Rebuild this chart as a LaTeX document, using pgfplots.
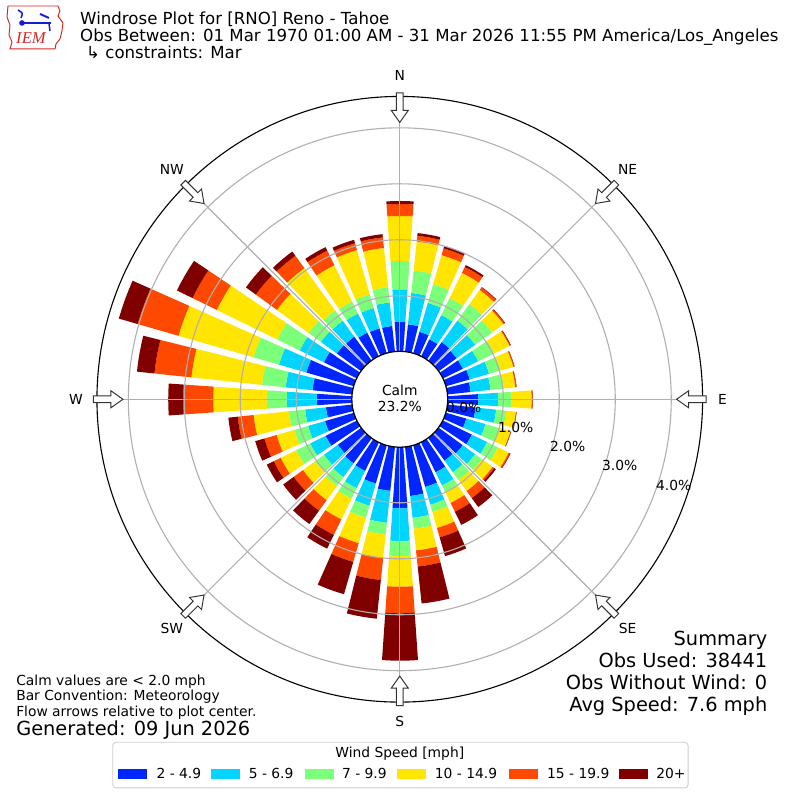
\documentclass[border=0pt]{standalone}
\usepackage{pgfplots}
\pgfplotsset{compat=1.18}
\usepackage{pgfplotstable}
\usepackage{fontspec}
\setmainfont{DejaVu Sans}
\newfontfamily\logofont{Liberation Serif}

\definecolor{c1}{RGB}{0,38,255}
\definecolor{c2}{RGB}{0,212,255}
\definecolor{c3}{RGB}{124,255,121}
\definecolor{c4}{RGB}{255,229,0}
\definecolor{c5}{RGB}{255,72,0}
\definecolor{c6}{RGB}{128,0,0}
\definecolor{gridgray}{RGB}{176,176,176}
\definecolor{logored}{RGB}{210,40,40}
\definecolor{logoblue}{RGB}{20,30,210}

% percent of observations per direction and speed bin
\pgfplotstableread{
dir b1 b2 b3 b4 b5 b6
0 0.539 0.579 0.505 0.804 0.214 0.054
10 0.500 0.563 0.405 0.518 0.104 0.048
20 0.407 0.538 0.348 0.539 0.127 0.045
30 0.346 0.482 0.339 0.500 0.118 0.036
40 0.418 0.475 0.364 0.313 0.054 0.009
50 0.400 0.411 0.375 0.250 0.027 0.009
60 0.400 0.304 0.321 0.304 0.018 0.009
70 0.446 0.359 0.216 0.236 0.018 0.005
80 0.418 0.357 0.241 0.205 0.018 0.005
90 0.548 0.357 0.239 0.357 0.018 0.005
100 0.507 0.370 0.179 0.175 0.009 0.005
110 0.382 0.357 0.250 0.214 0.009 0.005
120 0.579 0.304 0.214 0.214 0.027 0.009
130 0.536 0.275 0.148 0.236 0.036 0.036
140 0.502 0.255 0.170 0.245 0.157 0.196
150 0.596 0.264 0.134 0.213 0.175 0.259
160 0.775 0.330 0.134 0.298 0.175 0.348
170 0.882 0.393 0.196 0.389 0.289 0.664
180 1.093 0.584 0.268 0.548 0.475 0.846
190 0.791 0.573 0.213 0.421 0.393 0.696
200 0.711 0.413 0.221 0.475 0.348 0.600
210 0.570 0.343 0.207 0.413 0.309 0.273
220 0.561 0.304 0.196 0.313 0.232 0.295
230 0.525 0.304 0.196 0.268 0.205 0.232
240 0.629 0.307 0.277 0.309 0.138 0.138
250 0.543 0.316 0.255 0.329 0.227 0.171
260 0.479 0.375 0.291 0.634 0.284 0.170
270 0.638 0.536 0.357 0.954 0.536 0.268
280 0.721 0.482 0.423 1.270 0.664 0.314
290 0.891 0.507 0.475 1.393 0.759 0.350
300 0.663 0.480 0.446 1.204 0.482 0.309
310 0.548 0.350 0.271 0.700 0.466 0.218
320 0.538 0.350 0.232 0.932 0.273 0.093
330 0.480 0.379 0.239 0.721 0.289 0.070
340 0.471 0.379 0.254 0.823 0.127 0.063
350 0.470 0.423 0.273 0.705 0.189 0.059
}\windtable

% geometry: centre (400,400.5) in axis units (1 unit = 0.01in), 0% at r=47.6, 56 units per 1%
\newcommand\wrAddPt[2]{%
  \pgfmathsetmacro\wrX{400+#1*sin(#2)}%
  \pgfmathsetmacro\wrY{400.5+#1*cos(#2)}%
  \xdef\wrPts{\wrPts(\wrX,\wrY) }%
}
\newcommand\wrSeg[2]{%
  \pgfplotstablegetelem{#1}{b#2}\of\windtable
  \pgfmathsetmacro\wrOut{\wrIn+56*\pgfplotsretval}%
  \gdef\wrPts{}%
  \wrAddPt{\wrOut}{\wrDir-3.95}\wrAddPt{\wrOut}{\wrDir-2}\wrAddPt{\wrOut}{\wrDir}%
  \wrAddPt{\wrOut}{\wrDir+2}\wrAddPt{\wrOut}{\wrDir+3.95}%
  \wrAddPt{\wrIn}{\wrDir+3.95}\wrAddPt{\wrIn}{\wrDir+2}\wrAddPt{\wrIn}{\wrDir}%
  \wrAddPt{\wrIn}{\wrDir-2}\wrAddPt{\wrIn}{\wrDir-3.95}%
  \edef\wrCmd{\noexpand\addplot[fill=c#2,draw=none,forget plot] coordinates {\wrPts} -- cycle;}%
  \wrCmd
  \global\let\wrIn\wrOut
}
\newcommand\wrDirBars[1]{%
  \pgfplotstablegetelem{#1}{dir}\of\windtable
  \xdef\wrDir{\pgfplotsretval}%
  \gdef\wrIn{47.6}%
  \wrSeg{#1}{1}\wrSeg{#1}{2}\wrSeg{#1}{3}\wrSeg{#1}{4}\wrSeg{#1}{5}\wrSeg{#1}{6}%
}

\begin{document}
\begin{tikzpicture}
\useasboundingbox (0,0) rectangle (8in,8in);
\begin{axis}[
  at={(0,0)}, anchor=south west,
  scale only axis, width=8in, height=8in,
  xmin=0, xmax=800, ymin=0, ymax=800,
  hide axis, clip=false,
]
\wrDirBars{0}\wrDirBars{1}\wrDirBars{2}\wrDirBars{3}\wrDirBars{4}\wrDirBars{5}
\wrDirBars{6}\wrDirBars{7}\wrDirBars{8}\wrDirBars{9}\wrDirBars{10}\wrDirBars{11}
\wrDirBars{12}\wrDirBars{13}\wrDirBars{14}\wrDirBars{15}\wrDirBars{16}\wrDirBars{17}
\wrDirBars{18}\wrDirBars{19}\wrDirBars{20}\wrDirBars{21}\wrDirBars{22}\wrDirBars{23}
\wrDirBars{24}\wrDirBars{25}\wrDirBars{26}\wrDirBars{27}\wrDirBars{28}\wrDirBars{29}
\wrDirBars{30}\wrDirBars{31}\wrDirBars{32}\wrDirBars{33}\wrDirBars{34}\wrDirBars{35}
\end{axis}

\begin{scope}[yshift=8in, x=0.01in, y=-0.01in, every node/.style={inner sep=0pt}]
  % grid
  \foreach \r in {103.6,159.6,215.6,271.6}
    \draw[gridgray, line width=0.8pt] (400,399.5) circle[radius=\r];
  \foreach \a in {0,45,...,315}
    \draw[gridgray, line width=0.8pt] (400,399.5) -- ++({303*sin(\a)},{-303*cos(\a)});
  \draw[black, line width=0.8pt] (400,399.5) circle[radius=303];
  \draw[black, fill=white, line width=0.9pt] (400,399.5) circle[radius=48];
  \node at (400,391) {Calm};
  \node at (400,407) {23.2\%};
  % direction arrows
  \foreach \a in {0,45,...,315}
    \draw[fill=white, draw=black!80, line width=0.7pt]
      ({400+277*sin(\a)},{399.5-277*cos(\a)})
      -- ({400+289*sin(\a)+8.5*cos(\a)},{399.5-289*cos(\a)+8.5*sin(\a)})
      -- ({400+289*sin(\a)+3.3*cos(\a)},{399.5-289*cos(\a)+3.3*sin(\a)})
      -- ({400+306.5*sin(\a)+3.3*cos(\a)},{399.5-306.5*cos(\a)+3.3*sin(\a)})
      -- ({400+306.5*sin(\a)-3.3*cos(\a)},{399.5-306.5*cos(\a)-3.3*sin(\a)})
      -- ({400+289*sin(\a)-3.3*cos(\a)},{399.5-289*cos(\a)-3.3*sin(\a)})
      -- ({400+289*sin(\a)-8.5*cos(\a)},{399.5-289*cos(\a)-8.5*sin(\a)})
      -- cycle;
  % direction labels
  \node at (400,76) {N};
  \node at (628,170) {NE};
  \node at (723,399.5) {E};
  \node at (628,629) {SE};
  \node at (400,722) {S};
  \node at (172,629) {SW};
  \node at (76,399.5) {W};
  \node at (172,170) {NW};
  % radial labels
  \node at (464,408) {0.0\%};
  \node at (516,428) {1.0\%};
  \node at (568,447) {2.0\%};
  \node at (620,466) {3.0\%};
  \node at (674,486) {4.0\%};
  % title
  \node[anchor=base west, font=\fontsize{12}{14}\selectfont] at (80,25) {Windrose Plot for [RNO] Reno - Tahoe};
  \node[anchor=base west, font=\fontsize{12}{14}\selectfont] at (80,42) {Obs Between: 01 Mar 1970 01:00 AM - 31 Mar 2026 11:55 PM America/Los\_Angeles};
  \node[anchor=base west, font=\fontsize{12}{14}\selectfont] at (86,59) {↳ constraints: Mar};
  % logo
  \draw[logored, line width=0.7pt] (8,6) -- (58,6) -- (60,11) -- (58,16) -- (63,23) -- (62,31) -- (60,39) -- (56,44) -- (55,49) -- (10,49) -- (12,42) -- (9,35) -- (10,25) -- (7,17) -- cycle;
  \node[logored, font=\logofont\itshape\fontsize{12}{12}\selectfont] at (31,38) {IEM};
  \draw[logoblue, line width=1.6pt] (21,23) -- (51,23);
  \fill[logoblue] (22,23) circle[radius=2.8];
  \draw[logoblue, line width=1.1pt] (18,10) .. controls (23,13) .. (21,18);
  \draw[logoblue, line width=1.4pt] (40,14) -- (49,18);
  \draw[logoblue, line width=1.1pt] (49,23) -- (50,31);
  % bottom left notes
  \node[anchor=base west] at (16,685.5) {Calm values are < 2.0 mph};
  \node[anchor=base west] at (16,701) {Bar Convention: Meteorology};
  \node[anchor=base west] at (16,716.5) {Flow arrows relative to plot center.};
  \node[anchor=base west, font=\fontsize{14}{16}\selectfont] at (16,736) {Generated: 09 Jun 2026};
  % summary
  \node[anchor=base east, font=\fontsize{14}{16}\selectfont] at (768,646) {Summary};
  \node[anchor=base east, font=\fontsize{14}{16}\selectfont] at (768,668) {Obs Used: 38441};
  \node[anchor=base east, font=\fontsize{14}{16}\selectfont] at (768,690) {Obs Without Wind: 0};
  \node[anchor=base east, font=\fontsize{14}{16}\selectfont] at (768,712) {Avg Speed: 7.6 mph};
  % legend
  \draw[draw=black!20, fill=white, rounded corners=2.5pt, line width=0.6pt] (112.8,742.7) rectangle (688.5,788.3);
  \node[anchor=base] at (400,757.5) {Wind Speed [mph]};
  \fill[c1] (118,769.5) rectangle ++(29,9.5);
  \fill[c2] (211.3,769.5) rectangle ++(29,9.5);
  \fill[c3] (305,769.5) rectangle ++(29,9.5);
  \fill[c4] (397.4,769.5) rectangle ++(29,9.5);
  \fill[c5] (509.2,769.5) rectangle ++(29,9.5);
  \fill[c6] (619.5,769.5) rectangle ++(29,9.5);
  \node[anchor=base west] at (156.4,779) {2 - 4.9};
  \node[anchor=base west] at (248.7,779) {5 - 6.9};
  \node[anchor=base west] at (342,779) {7 - 9.9};
  \node[anchor=base west] at (434.9,779) {10 - 14.9};
  \node[anchor=base west] at (547.2,779) {15 - 19.9};
  \node[anchor=base west] at (656.4,779) {20+};
\end{scope}
\end{tikzpicture}
\end{document}
